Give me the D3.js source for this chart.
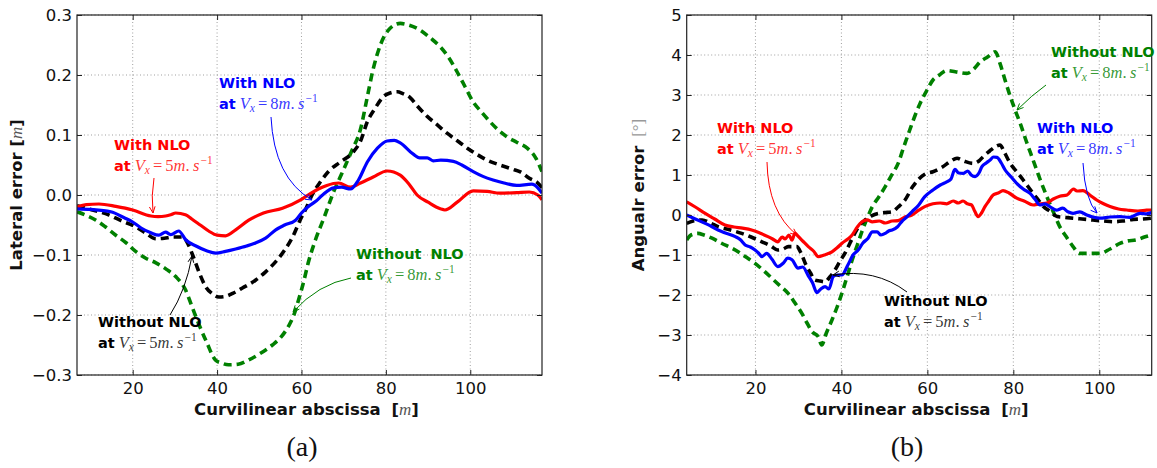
<!DOCTYPE html>
<html><head><meta charset="utf-8">
<script src="https://cdn.jsdelivr.net/npm/d3@7"></script>
<style>body{margin:0;background:#fff} svg{display:block}</style>
</head><body><svg id="c" width="1157" height="468"></svg>
<script>
// ---------- tick labels ----------
const xTicks = [20, 40, 60, 80, 100];
const yTicksA = [-0.3, -0.2, -0.1, 0.0, 0.1, 0.2, 0.3];
const yTicksB = [-4, -3, -2, -1, 0, 1, 2, 3, 4, 5];

// ---------- panel (a): lateral error [m] ----------
const aRedX = [6.8, 9, 12, 16, 20, 24.3, 26, 27.8, 29, 30.2, 32.5, 34, 36, 38, 40, 42, 44.4, 47.5, 51, 55.5, 59.8, 62, 64, 66, 68.8, 71.6, 74, 77, 80.3, 83.4, 85.5, 87.4, 90, 92.9, 94, 96.9, 100.7, 104, 107, 111, 114, 116, 117];
const aRedY = [-0.02, -0.016, -0.015, -0.019, -0.025, -0.035, -0.036, -0.035, -0.033, -0.03, -0.033, -0.04, -0.05, -0.06, -0.067, -0.068, -0.058, -0.042, -0.03, -0.022, -0.008, 0.002, 0.01, 0.016, 0.02, 0.013, 0.02, 0.03, 0.04, 0.033, 0.018, 0.0, -0.012, -0.023, -0.025, -0.012, 0.007, 0.006, 0.003, 0.004, 0.005, 0.0, -0.008];

const aBlueX = [6.8, 10, 14.8, 18, 20, 22, 24.3, 26.2, 27.8, 29, 30.9, 32.6, 35, 37.5, 39.7, 42, 44.4, 47, 49.1, 51.5, 53.9, 56, 58.6, 60, 61.5, 63.3, 65, 67.6, 69.5, 71.6, 73.5, 75.6, 78, 80.3, 82, 83.4, 86.5, 88, 89.8, 91.2, 93, 96, 98, 100.7, 103, 105.4, 108, 111, 114.6, 116, 117];
const aBlueY = [-0.023, -0.024, -0.028, -0.038, -0.045, -0.055, -0.063, -0.067, -0.062, -0.066, -0.06, -0.075, -0.085, -0.093, -0.097, -0.094, -0.09, -0.085, -0.08, -0.072, -0.058, -0.05, -0.042, -0.03, -0.02, -0.011, 0.0, 0.012, 0.013, 0.01, 0.025, 0.055, 0.078, 0.09, 0.091, 0.087, 0.068, 0.062, 0.062, 0.057, 0.058, 0.056, 0.05, 0.039, 0.031, 0.025, 0.02, 0.016, 0.018, 0.012, 0.003];

const aBlackX = [6.8, 10, 14.3, 17, 20.7, 23, 25.5, 27.5, 29.4, 31.8, 33, 34.2, 35.8, 37.3, 39, 40.4, 42, 43.7, 46, 49.1, 51.5, 53.9, 56, 57.9, 59.8, 60.9, 62.5, 64.5, 66.5, 69.2, 72.3, 74, 75.6, 77.5, 79.4, 81, 82.7, 84, 85.8, 87.5, 89.8, 92, 94.5, 97, 99.3, 101.5, 104, 107, 110, 112, 114, 116, 117];
const aBlackY = [-0.018, -0.024, -0.033, -0.042, -0.053, -0.063, -0.073, -0.072, -0.07, -0.07, -0.08, -0.1, -0.13, -0.153, -0.165, -0.17, -0.169, -0.164, -0.155, -0.142, -0.128, -0.111, -0.092, -0.07, -0.04, -0.025, 0.0, 0.022, 0.04, 0.055, 0.072, 0.09, 0.122, 0.145, 0.164, 0.17, 0.172, 0.169, 0.162, 0.148, 0.131, 0.118, 0.103, 0.09, 0.078, 0.068, 0.058, 0.05, 0.043, 0.038, 0.028, 0.02, 0.012];

const aGreenX = [6.8, 9, 11.3, 13.5, 16, 18.5, 20.7, 23, 25.5, 28, 30.2, 32.5, 34, 35.6, 37.5, 39.6, 41, 42.7, 45, 47.5, 50, 53.1, 55, 56.9, 58.2, 59.3, 60.5, 61.6, 63.3, 65.5, 67.6, 69.5, 72, 74, 75.5, 77, 78.7, 81, 83.4, 85.5, 88.1, 90.5, 92.9, 95, 96.9, 98.8, 100.7, 102.7, 104.7, 106.7, 108.7, 111, 113.5, 115.5, 117];
const aGreenY = [-0.028, -0.034, -0.042, -0.053, -0.067, -0.08, -0.094, -0.105, -0.113, -0.124, -0.136, -0.158, -0.185, -0.214, -0.245, -0.275, -0.28, -0.283, -0.282, -0.275, -0.265, -0.25, -0.238, -0.219, -0.2, -0.175, -0.145, -0.113, -0.075, -0.035, 0.005, 0.035, 0.075, 0.11, 0.16, 0.21, 0.25, 0.278, 0.286, 0.283, 0.275, 0.262, 0.247, 0.228, 0.205, 0.18, 0.155, 0.138, 0.122, 0.108, 0.097, 0.088, 0.078, 0.062, 0.039];

// ---------- panel (b): angular error [deg] ----------
const bRedX = [4, 6, 8.3, 10.5, 12.9, 15, 17, 19.1, 21, 22.9, 24, 25.2, 26.2, 26.9, 27.8, 28.5, 29.2, 29.9, 31, 32.3, 33.5, 34.6, 36, 37.8, 39, 40.2, 41.5, 42.5, 43.7, 44.8, 46, 47.2, 48.8, 50.2, 51.8, 53.2, 54.8, 56.4, 58, 59.4, 61.3, 63, 64.5, 66, 67.2, 68.3, 69.3, 70.3, 71, 71.8, 72.6, 73.4, 74.3, 75.3, 76.5, 77.6, 79, 80.8, 82.5, 84.6, 86, 87.8, 89.3, 90.8, 92.5, 94, 94.8, 96.2, 97.8, 99.4, 101, 102.5, 104.5, 106.4, 109, 111, 112.2];
const bRedY = [0.33, 0.2, 0.04, -0.1, -0.25, -0.3, -0.33, -0.375, -0.45, -0.54, -0.6, -0.67, -0.55, -0.6, -0.5, -0.63, -0.45, -0.53, -0.65, -0.79, -0.9, -1.04, -1.0, -0.92, -0.82, -0.7, -0.6, -0.5, -0.3, -0.17, -0.12, -0.17, -0.15, -0.2, -0.15, -0.14, -0.05, 0.0, 0.12, 0.21, 0.28, 0.3, 0.28, 0.35, 0.3, 0.35, 0.28, 0.25, 0.1, -0.04, 0.05, 0.21, 0.35, 0.5, 0.55, 0.61, 0.55, 0.42, 0.35, 0.25, 0.28, 0.3, 0.4, 0.47, 0.5, 0.65, 0.6, 0.61, 0.5, 0.375, 0.28, 0.21, 0.15, 0.125, 0.1, 0.12, 0.125];

const bBlueX = [4, 6, 8.3, 10, 11.3, 13, 15.3, 16.5, 17.6, 18.8, 19.9, 20.7, 21.5, 22.6, 23.8, 25.2, 26.5, 27.5, 28.5, 29.9, 31, 32.3, 33.3, 34.3, 35.2, 36.2, 37.1, 38.1, 39, 40.1, 41.5, 42.7, 43.9, 45, 46.2, 47.2, 48.3, 49.2, 50.2, 51, 51.8, 53, 54, 55.2, 56.4, 58, 59.4, 61.3, 63, 64.5, 65.5, 66.4, 67.3, 68.3, 69.4, 70.2, 71.1, 72, 72.7, 73.7, 74.6, 75.4, 76.2, 77.2, 78.1, 79.5, 80.8, 82.3, 83.9, 85, 86.2, 87.3, 88.5, 90, 91.5, 92.7, 93.9, 95.5, 97.1, 98.5, 100.1, 102.5, 104.8, 107, 109.5, 111, 112.2];
const bBlueY = [0, -0.1, -0.21, -0.3, -0.375, -0.45, -0.54, -0.62, -0.75, -0.8, -0.875, -0.95, -1.04, -0.96, -1.1, -1.29, -1.2, -1.08, -1.12, -1.33, -1.3, -1.52, -1.7, -1.94, -1.85, -1.79, -1.85, -1.54, -1.5, -1.5, -1.25, -1.0, -0.875, -0.7, -0.58, -0.42, -0.42, -0.5, -0.46, -0.4, -0.375, -0.3, -0.17, -0.05, 0.08, 0.25, 0.46, 0.625, 0.75, 0.83, 0.9, 1.14, 1.05, 1.04, 1.1, 1.0, 0.96, 1.05, 1.21, 1.3, 1.375, 1.45, 1.44, 1.3, 1.125, 0.95, 0.79, 0.65, 0.54, 0.4, 0.25, 0.28, 0.21, 0.12, 0.17, 0.08, 0.04, 0.08, 0.0, -0.05, -0.08, -0.05, -0.04, -0.06, 0.04, 0.03, 0.06];

const bBlackX = [4, 5.5, 7.6, 9.5, 11.3, 14, 16.8, 19, 21.5, 23.5, 25.2, 26.5, 27.6, 29.6, 30.6, 31.6, 32.8, 33.8, 35, 36.2, 37.3, 38.5, 39.7, 40.8, 42, 43.1, 44.3, 45.5, 47, 48.5, 50, 51.8, 53.2, 54.8, 56.6, 58, 59.4, 61.3, 63.5, 65.5, 66.9, 68.5, 70.6, 72, 73, 74.5, 75.7, 76.9, 78, 79.3, 80.8, 82.3, 83.5, 84.6, 86, 87, 88.5, 90.2, 92, 93.9, 96, 98.5, 101, 103.2, 105.5, 107.9, 110, 112.2];
const bBlackY = [-0.21, -0.15, -0.125, -0.2, -0.29, -0.37, -0.46, -0.55, -0.67, -0.77, -0.875, -0.85, -0.79, -0.79, -0.95, -1.21, -1.45, -1.625, -1.65, -1.67, -1.55, -1.375, -1.15, -0.96, -0.7, -0.46, -0.25, -0.125, -0.02, 0.04, 0.06, 0.08, 0.2, 0.375, 0.71, 0.9, 1.02, 1.08, 1.2, 1.35, 1.42, 1.35, 1.29, 1.35, 1.46, 1.6, 1.7, 1.75, 1.55, 1.29, 1.08, 0.875, 0.7, 0.54, 0.35, 0.21, 0.1, -0.04, -0.06, -0.08, -0.1, -0.125, -0.15, -0.17, -0.15, -0.11, -0.1, -0.08];

const bGreenX = [4, 5, 6.6, 8, 9.9, 12, 15.3, 17.5, 19.9, 22, 23.8, 25.7, 27.6, 29.2, 30.8, 32, 33.2, 34.6, 35.4, 36.5, 37.8, 39, 40.1, 41.3, 42.5, 43.7, 44.9, 46, 47.2, 48.7, 50.2, 51.7, 53.2, 54.5, 55.9, 57, 58.3, 59.8, 61.3, 62.8, 64.5, 66.5, 69.2, 70.8, 72.3, 74, 75.8, 76.9, 78, 79.3, 80.5, 81.6, 83, 84.6, 86.2, 87.8, 89.3, 90.8, 92.3, 93.9, 95.4, 97.1, 98.5, 100.1, 102.5, 104.8, 106.5, 108.6, 110.5, 112.2];
const bGreenY = [-0.625, -0.5, -0.46, -0.5, -0.58, -0.7, -0.875, -1.03, -1.21, -1.4, -1.58, -1.77, -1.96, -2.2, -2.46, -2.7, -2.92, -3.04, -3.25, -2.95, -2.625, -2.3, -1.96, -1.55, -1.125, -0.75, -0.375, -0.08, 0.21, 0.45, 0.71, 1.0, 1.29, 1.7, 2.125, 2.45, 2.79, 3.1, 3.375, 3.5, 3.61, 3.58, 3.54, 3.65, 3.83, 3.95, 4.08, 3.79, 3.4, 2.96, 2.6, 2.29, 1.85, 1.375, 0.9, 0.46, 0.08, -0.29, -0.54, -0.79, -0.96, -0.96, -0.96, -0.96, -0.85, -0.71, -0.65, -0.625, -0.55, -0.5];

// ---------- drawing ----------
const svg = d3.select("#c");
const SANS = "'DejaVu Sans', Verdana, sans-serif";
const SERIF = "'Liberation Serif', 'DejaVu Serif', serif";
const GREEN = "#008000";

function panel(cfg) {
  const x = d3.scaleLinear().domain(cfg.xd).range([cfg.left, cfg.right]);
  const y = d3.scaleLinear().domain(cfg.yd).range([cfg.bottom, cfg.top]);
  const g = svg.append("g");
  const clipId = "clip" + cfg.id;
  svg.append("clipPath").attr("id", clipId).append("rect")
    .attr("x", cfg.left).attr("y", cfg.top)
    .attr("width", cfg.right - cfg.left).attr("height", cfg.bottom - cfg.top);

  // grid
  const grid = g.append("g").attr("stroke", "#777").attr("stroke-width", 0.7).attr("stroke-dasharray", "1,2.5");
  grid.selectAll(".gx").data(xTicks).join("line")
    .attr("x1", d => x(d)).attr("x2", d => x(d)).attr("y1", cfg.top).attr("y2", cfg.bottom);
  grid.selectAll(".gy").data(cfg.yTicks).join("line")
    .attr("y1", d => y(d)).attr("y2", d => y(d)).attr("x1", cfg.left).attr("x2", cfg.right);

  // series
  const line = d3.line().x(d => x(d[0])).y(d => y(d[1])).curve(d3.curveMonotoneX);
  const lines = g.append("g").attr("clip-path", `url(#${clipId})`).attr("fill", "none")
    .attr("stroke-linejoin", "round");
  cfg.series.forEach(s => {
    const pts = s.xs.map((v, i) => [v, s.ys[i]]);
    lines.append("path").attr("d", line(pts))
      .attr("stroke", s.color)
      .attr("stroke-width", s.dash ? 3.6 : 3.2)
      .attr("stroke-dasharray", s.dash ? "8,5" : null);
  });

  // axes
  const fontSize = "16.5px";
  const ax = g.append("g").attr("transform", `translate(0,${cfg.bottom})`)
    .call(d3.axisBottom(x).tickValues(xTicks).tickSize(-5).tickPadding(7).tickFormat(d3.format("d")));
  const ay = g.append("g").attr("transform", `translate(${cfg.left},0)`)
    .call(d3.axisLeft(y).tickValues(cfg.yTicks).tickSize(-5).tickPadding(5).tickFormat(cfg.yfmt));
  const at = g.append("g").attr("transform", `translate(0,${cfg.top})`)
    .call(d3.axisTop(x).tickValues(xTicks).tickSize(-5).tickFormat(""));
  const ar = g.append("g").attr("transform", `translate(${cfg.right},0)`)
    .call(d3.axisRight(y).tickValues(cfg.yTicks).tickSize(-5).tickFormat(""));
  [ax, ay, at, ar].forEach(a => {
    a.select(".domain").remove();
    a.selectAll("line").attr("stroke", "#222").attr("stroke-width", 1);
    a.selectAll("text").attr("fill", "#111").style("font-family", SANS).style("font-size", fontSize);
  });

  // frame
  g.append("rect").attr("x", cfg.left).attr("y", cfg.top)
    .attr("width", cfg.right - cfg.left).attr("height", cfg.bottom - cfg.top)
    .attr("fill", "none").attr("stroke", "#222").attr("stroke-width", 1.2);

  // x label
  const xl = g.append("text").attr("x", (cfg.left + cfg.right) / 2 - 3).attr("y", 415)
    .attr("text-anchor", "middle").style("font-family", SANS).style("font-weight", "bold")
    .style("font-size", "16.5px").attr("fill", "#111");
  xl.append("tspan").text("Curvilinear abscissa ");
  xl.append("tspan").attr("dx", 5).text("[");
  xl.append("tspan").style("font-family", SERIF).style("font-style", "italic").style("font-weight", "normal")
    .attr("fill", "#555").style("font-size", "17px").text("m");
  xl.append("tspan").text("]");

  // panel tag
  g.append("text").attr("x", cfg.tagX).attr("y", 456).attr("text-anchor", "middle")
    .style("font-family", SERIF).style("font-size", "28px").attr("fill", "#111").text(cfg.tag);

  return { x, y, g };
}

function math(t, speed, color) {
  const it = (s) => t.append("tspan").style("font-family", SERIF).style("font-style", "italic")
    .style("font-weight", "normal").style("font-size", "16.5px").attr("fill-opacity", 0.8).text(s);
  const up = (s) => t.append("tspan").style("font-family", SERIF).style("font-style", "normal")
    .style("font-weight", "normal").style("font-size", "16.5px").attr("fill-opacity", 0.8).text(s);
  it("V").attr("dx", 4);
  it("x").style("font-size", "11.5px").attr("dy", 3.5);
  up("=").attr("dy", -3.5).attr("dx", 3);
  up(speed).attr("dx", 3);
  it("m");
  up(".");
  it("s").attr("dx", 3.5);
  up("\u22121").style("font-size", "11.5px").attr("dy", -6.5).attr("dx", 1);
}

function annot(g, x, y, color, l1, speed) {
  const t1 = g.append("text").attr("x", x).attr("y", y).attr("fill", color)
    .style("font-family", SANS).style("font-weight", "bold").style("font-size", "14.5px");
  l1.split("|").forEach((w, i) => t1.append("tspan").attr("dx", i ? 9 : 0).text(w));
  const t2 = g.append("text").attr("x", x).attr("y", y + 20.5).attr("fill", color)
    .style("font-family", SANS).style("font-weight", "bold").style("font-size", "14.5px");
  t2.append("tspan").text("at");
  math(t2, speed, color);
}

function arrow(g, color, x1, y1, cx, cy, x2, y2) {
  g.append("path").attr("d", `M${x1},${y1} Q${cx},${cy} ${x2},${y2}`)
    .attr("fill", "none").attr("stroke", color).attr("stroke-width", 1);
  const ang = Math.atan2(y2 - cy, x2 - cx);
  const L = 7, w = 0.42;
  const p1 = [x2 - L * Math.cos(ang - w), y2 - L * Math.sin(ang - w)];
  const p2 = [x2 - L * Math.cos(ang + w), y2 - L * Math.sin(ang + w)];
  g.append("path").attr("d", `M${p1[0]},${p1[1]} L${x2},${y2} L${p2[0]},${p2[1]}`)
    .attr("fill", "none").attr("stroke", color).attr("stroke-width", 1);
}

// Panel (a)
const A = panel({
  id: "a", left: 77, right: 542, top: 15, bottom: 375,
  xd: [6.8, 117], yd: [-0.3, 0.3], yTicks: yTicksA, yfmt: d3.format(".1f"),
  tag: "(a)", tagX: 302,
  series: [
    { xs: aGreenX, ys: aGreenY, color: GREEN, dash: true },
    { xs: aBlackX, ys: aBlackY, color: "#000", dash: true },
    { xs: aRedX, ys: aRedY, color: "#ff0000", dash: false },
    { xs: aBlueX, ys: aBlueY, color: "#0000ff", dash: false }
  ]
});
// Panel (b)
const B = panel({
  id: "b", left: 686.7, right: 1151.7, top: 15, bottom: 375,
  xd: [4, 112.2], yd: [-4, 5], yTicks: yTicksB, yfmt: d3.format("d"),
  tag: "(b)", tagX: 907,
  series: [
    { xs: bGreenX, ys: bGreenY, color: GREEN, dash: true },
    { xs: bBlackX, ys: bBlackY, color: "#000", dash: true },
    { xs: bRedX, ys: bRedY, color: "#ff0000", dash: false },
    { xs: bBlueX, ys: bBlueY, color: "#0000ff", dash: false }
  ]
});

// y labels
const yla = svg.append("text").attr("transform", "translate(21.5,195) rotate(-90)")
  .attr("text-anchor", "middle").style("font-family", SANS).style("font-weight", "bold")
  .style("font-size", "16.5px").attr("fill", "#111");
yla.append("tspan").text("Lateral error [");
yla.append("tspan").style("font-family", SERIF).style("font-style", "italic").style("font-weight", "normal")
  .attr("fill", "#555").style("font-size", "17px").text("m");
yla.append("tspan").text("]");

const ylb = svg.append("text").attr("transform", "translate(644,195) rotate(-90)")
  .attr("text-anchor", "middle").style("font-family", SANS).style("font-weight", "bold")
  .style("font-size", "16.5px").attr("fill", "#111");
ylb.append("tspan").text("Angualr error ");
ylb.append("tspan").attr("dx", 3).style("font-family", SERIF).style("font-weight", "normal")
  .attr("fill", "#999").style("font-size", "17px").text("[\u00b0]");

// annotations (a)
const ga = svg.append("g");
annot(ga, 219, 88, "#0000ff", "With NLO", "8");
arrow(ga, "#0000ff", 271, 117, 274, 178, 312, 200);
annot(ga, 114, 150, "#ff0000", "With NLO", "5");
arrow(ga, "#ff0000", 154, 178, 151, 196, 153, 213);
annot(ga, 98, 327, "#000", "Without NLO", "5");
arrow(ga, "#000", 170, 315, 186, 290, 192, 256);
annot(ga, 356, 259, GREEN, "Without|NLO", "8");
arrow(ga, GREEN, 351, 278, 318, 284, 293, 312);

// annotations (b)
const gb = svg.append("g");
annot(gb, 717, 133, "#ff0000", "With NLO", "5");
arrow(gb, "#ff0000", 767, 162, 768, 212, 797, 235);
annot(gb, 1051, 57, GREEN, "Without NLO", "8");
arrow(gb, GREEN, 1046, 85, 1032, 95, 1017, 110);
annot(gb, 1037, 133, "#0000ff", "With NLO", "8");
arrow(gb, "#0000ff", 1083, 163, 1085, 200, 1097, 213);
annot(gb, 884, 306, "#000", "Without NLO", "5");
arrow(gb, "#000", 907, 292, 875, 268, 833, 275);
</script></body></html>
